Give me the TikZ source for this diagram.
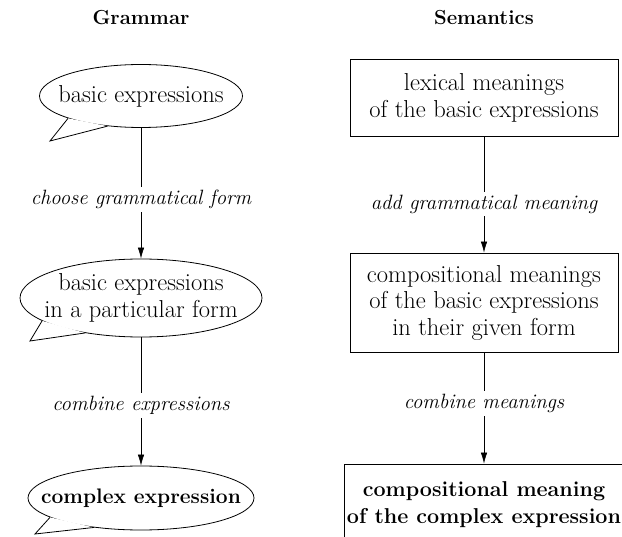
\documentclass[tikz,border=0pt]{standalone}
\usetikzlibrary{positioning,arrows.meta,shapes.geometric}

\begin{document}
\begin{tikzpicture}[x=1pt, y=-1pt,
    font=\fontsize{24.5}{26.5}\selectfont,
    head/.style={font=\fontsize{20.3}{24}\selectfont\bfseries},
    bubble/.style={ellipse, draw, line width=0.8pt, inner sep=0pt, fill=white},
    bubtext/.style={align=center, inner sep=0pt},
    box/.style={rectangle, draw, line width=0.8pt, inner sep=0pt,
                align=center, minimum width=268pt},
    tail/.style={fill=white, line width=0.8pt, line join=miter},
    lbl/.style={fill=white, inner sep=3pt,
                font=\fontsize{20.7}{24}\selectfont\itshape},
    flow/.style={-{Latex[length=11pt,width=6.5pt]}, line width=0.6pt}]
  \useasboundingbox (0,0) rectangle (622,537);
  \clip (0,0) rectangle (622,537);

  % column heads
  \node[head] (gram) at (141,18) {Grammar};
  \node[head] (sem) at (484,18) {Semantics};

  % grammar side
  \node[bubble, minimum width=203pt, minimum height=63pt,
        label={[bubtext]center:basic expressions}] (be) at (141,96) {};
  \coordinate (betip) at (50,141);
  \filldraw[tail] (be.197) -- (betip) -- (be.222);

  \node[bubble, minimum width=242pt, minimum height=78pt,
        label={[bubtext]center:basic expressions\\in a particular form}]
    (bf) at (141,298) {};
  \coordinate (bftip) at (30,341);
  \filldraw[tail] (bf.193) -- (bftip) -- (bf.212);

  \node[bubble, minimum width=226pt, minimum height=64pt,
        label={[bubtext, font=\fontsize{21}{26}\selectfont\bfseries]center:complex expression}]
    (ce) at (141,498) {};
  \coordinate (cetip) at (35,534);
  \filldraw[tail] (ce.192) -- (cetip) -- (ce.212);

  % semantics side
  \node[box, minimum height=77pt] (lm) at (484,98)
    {lexical meanings\\of the basic expressions};
  \node[box, minimum height=99pt] (cm) at (484,302.5)
    {compositional meanings\\of the basic expressions\\in their given form};
  \node[box, minimum width=280pt, minimum height=81pt,
        font=\fontsize{21.5}{27}\selectfont\bfseries] (cx) at (484,504.5)
    {compositional meaning\\of the complex expression};

  % steps
  \draw[flow] (be.south) -- node[lbl, pos=0.55]{choose grammatical form} (bf.north);
  \draw[flow] (bf.south) -- node[lbl, pos=0.53]{combine expressions} (ce.north);
  \draw[flow] (lm.south) -- node[lbl, pos=0.58]{add grammatical meaning} (cm.north);
  \draw[flow] (cm.south) -- node[lbl, pos=0.46]{combine meanings} (cx.north);
\end{tikzpicture}
\end{document}
